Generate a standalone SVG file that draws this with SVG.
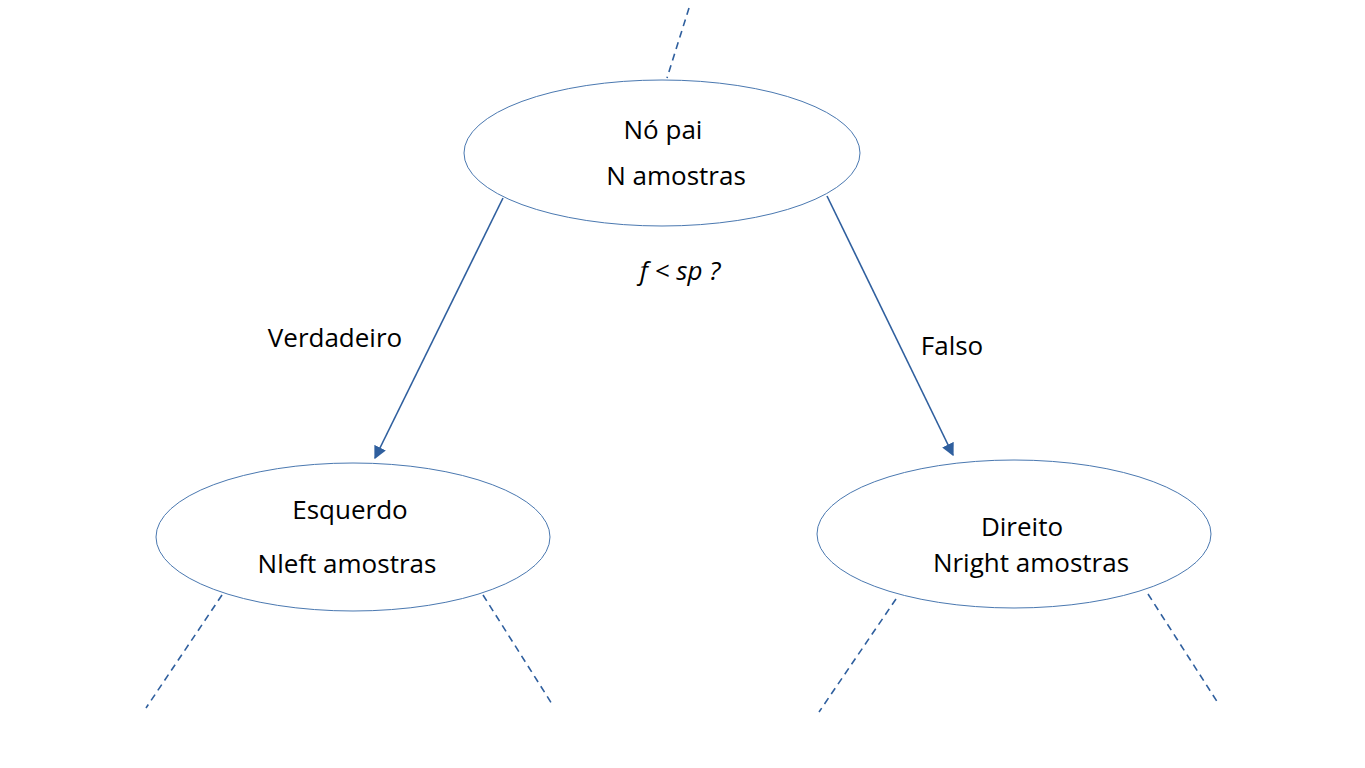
<svg xmlns="http://www.w3.org/2000/svg" width="1365" height="768" viewBox="0 0 1365 768">
<style>
.n{fill:#fff;stroke:#4a78b0;stroke-width:1}
.t{font-family:"Open Sans","Liberation Sans",sans-serif;font-size:26px;fill:#000;text-anchor:middle}
.a{stroke:#2f5f9e;stroke-width:1.6;fill:none}
.d{stroke:#2f5f9e;stroke-width:1.6;fill:none;stroke-dasharray:7 5}
</style>
<defs><marker id="ar" viewBox="0 0 10 10" refX="9" refY="5" markerWidth="8" markerHeight="8" orient="auto"><path d="M0,0 L10,5 L0,10 z" fill="#2f5f9e"/></marker></defs>
<rect width="1365" height="768" fill="#fff"/>
<g id="connectors">
<line class="d" x1="689" y1="8" x2="667" y2="78"/>
<line class="a" x1="503" y1="198" x2="375" y2="458" marker-end="url(#ar)"/>
<line class="a" x1="827" y1="196" x2="953" y2="455" marker-end="url(#ar)"/>
<line class="d" x1="222" y1="595" x2="146" y2="708"/>
<line class="d" x1="483" y1="595" x2="552" y2="704"/>
<line class="d" x1="896" y1="599" x2="819" y2="712"/>
<line class="d" x1="1148" y1="594" x2="1218" y2="703"/>
<text class="t" x="680" y="280" font-style="italic">f &lt; sp ?</text>
<text class="t" x="335" y="347">Verdadeiro</text>
<text class="t" x="952" y="355">Falso</text>
</g>
<g id="pai"><ellipse class="n" cx="662" cy="153" rx="198" ry="73"/>
<text class="t" x="663" y="139">Nó pai</text><text class="t" x="676" y="185">N amostras</text></g>
<g id="esquerdo"><ellipse class="n" cx="353" cy="537" rx="197" ry="74"/>
<text class="t" x="350" y="519">Esquerdo</text><text class="t" x="347" y="573">Nleft amostras</text></g>
<g id="direito"><ellipse class="n" cx="1014" cy="534" rx="197" ry="74"/>
<text class="t" x="1022" y="536">Direito</text><text class="t" x="1031" y="572">Nright amostras</text></g>
</svg>
